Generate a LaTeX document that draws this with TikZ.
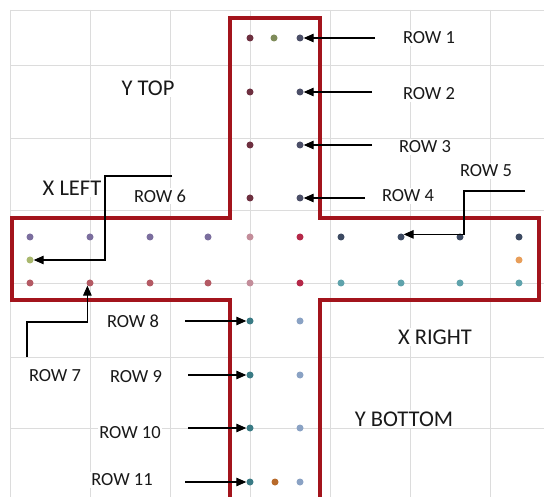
\documentclass[tikz,border=0pt]{standalone}
\usepackage{fontspec}
\setmainfont{Carlito}
\usetikzlibrary{arrows.meta}
\definecolor{gridc}{HTML}{DCDCDC}
\definecolor{redc}{HTML}{A3141C}
\definecolor{cmaroon}{HTML}{6E3040}
\definecolor{colive}{HTML}{7F8C5A}
\definecolor{cslate}{HTML}{4C4F68}
\definecolor{cpurple}{HTML}{7B6E9E}
\definecolor{cpink}{HTML}{C38D9A}
\definecolor{ccrimson}{HTML}{B52848}
\definecolor{cdslate}{HTML}{3D4A62}
\definecolor{cyg}{HTML}{A9B86E}
\definecolor{corange}{HTML}{E89E5A}
\definecolor{cmred}{HTML}{B45A64}
\definecolor{cteal}{HTML}{5FA3AC}
\definecolor{cdteal}{HTML}{3A7B85}
\definecolor{csteel}{HTML}{8AA2C4}
\definecolor{cbrown}{HTML}{B86A2A}
\tikzset{
  dot/.style={circle,inner sep=0pt,minimum size=7pt,fill=#1},
  rowlbl/.style={font=\fontsize{18.5}{21}\selectfont,text=black!90,fill=white,inner sep=1.5pt},
  biglbl/.style={font=\fontsize{22.5}{26}\selectfont,text=black!90,fill=white,inner sep=1.5pt},
  arr/.style={draw=black,line width=1.2pt,-{Triangle[length=10pt,width=8.5pt]}},
  gridline/.style={draw=gridc,line width=0.8pt},
  outline/.style={draw=redc,line width=4pt,line join=miter}
}
\begin{document}
\begin{tikzpicture}[x=1pt,y=-1pt]
\useasboundingbox (0,0) rectangle (544,497);
\fill[white] (0,0) rectangle (544,497);
% grid
\foreach \x in {10,90,170,250,330,410,490} \draw[gridline] (\x,10) -- (\x,497);
\foreach \y in {10,65,138,210,283,357,428} \draw[gridline] (10,\y) -- (544,\y);
% red cross outline
\draw[outline] (320,497) -- (320,300) -- (539,300) -- (539,218) -- (320,218) -- (320,18)
  -- (230,18) -- (230,218) -- (12,218) -- (12,300) -- (230,300) -- (230,497);
% labels
\node[biglbl] (ytop) at (148,88) {Y TOP};
\node[biglbl] (xleft) at (72,188) {X LEFT};
\node[biglbl] (xright) at (435,337) {X RIGHT};
\node[biglbl] (ybot) at (404,419) {Y BOTTOM};
\node[rowlbl] (l1) at (429,38) {ROW 1};
\node[rowlbl] (l2) at (429,94) {ROW 2};
\node[rowlbl] (l3) at (425,147) {ROW 3};
\node[rowlbl] (l4) at (408,196) {ROW 4};
\node[rowlbl] (l5) at (486,171) {ROW 5};
\node[rowlbl] (l6) at (160,196) {ROW 6};
\node[rowlbl] (l7) at (55,376) {ROW 7};
\node[rowlbl] (l8) at (133,321) {ROW 8};
\node[rowlbl] (l9) at (136,377) {ROW 9};
\node[rowlbl] (l10) at (130,433) {ROW 10};
\node[rowlbl] (l11) at (122,480) {ROW 11};
% top column dots
\node[dot=cmaroon] (t1a) at (250,38) {};
\node[dot=colive] (t1b) at (274,38) {};
\node[dot=cslate] (t1c) at (300,38) {};
\node[dot=cmaroon] (t2a) at (250,92) {};
\node[dot=cslate] (t2c) at (300,92) {};
\node[dot=cmaroon] (t3a) at (250,145) {};
\node[dot=cslate] (t3c) at (300,145) {};
\node[dot=cmaroon] (t4a) at (250,198) {};
\node[dot=cslate] (t4c) at (300,198) {};
% horizontal arm, top row
\node[dot=cpurple] (h1) at (30,237) {};
\node[dot=cpurple] (h2) at (90,237) {};
\node[dot=cpurple] (h3) at (150,237) {};
\node[dot=cpurple] (h4) at (208,237) {};
\node[dot=cpink] (h5) at (250,237) {};
\node[dot=ccrimson] (h6) at (300,237) {};
\node[dot=cdslate] (h7) at (341,237) {};
\node[dot=cdslate] (h8) at (401,237) {};
\node[dot=cdslate] (h9) at (460,237) {};
\node[dot=cdslate] (h10) at (519,237) {};
% middle row
\node[dot=cyg] (m1) at (30,260) {};
\node[dot=corange] (m10) at (519,260) {};
% bottom row
\node[dot=cmred] (b1) at (30,283) {};
\node[dot=cmred] (b2) at (90,283) {};
\node[dot=cmred] (b3) at (150,283) {};
\node[dot=cmred] (b4) at (208,283) {};
\node[dot=cpink] (b5) at (250,283) {};
\node[dot=ccrimson] (b6) at (300,283) {};
\node[dot=cteal] (b7) at (341,283) {};
\node[dot=cteal] (b8) at (401,283) {};
\node[dot=cteal] (b9) at (460,283) {};
\node[dot=cteal] (b10) at (519,283) {};
% bottom column
\node[dot=cdteal] (u8a) at (250,321) {};
\node[dot=csteel] (u8c) at (300,321) {};
\node[dot=cdteal] (u9a) at (250,375) {};
\node[dot=csteel] (u9c) at (300,375) {};
\node[dot=cdteal] (u10a) at (250,428) {};
\node[dot=csteel] (u10c) at (300,428) {};
\node[dot=cdteal] (u11a) at (250,482) {};
\node[dot=cbrown] (u11b) at (275,482) {};
\node[dot=csteel] (u11c) at (300,482) {};
% arrow start points
\coordinate (s1) at (375,38);
\coordinate (s2) at (372,92);
\coordinate (s3) at (372,145);
\coordinate (s4) at (365,198);
\coordinate (s5) at (525,191);
\coordinate (s6) at (172,176);
\coordinate (s7) at (27,357);
\coordinate (s8) at (185,321);
\coordinate (s9) at (188,375);
\coordinate (s10) at (188,428);
\coordinate (s11) at (185,482);
% arrows
\draw[arr] (s1) -- (t1c.east);
\draw[arr] (s2) -- (t2c.east);
\draw[arr] (s3) -- (t3c.east);
\draw[arr] (s4) -- (t4c.east);
\draw[arr] (s5) -- (464,191) |- (h8.north east);
\draw[arr] (s6) -- (105,176) |- (m1.east);
\draw[arr] (s7) -- (27,322) -| (b2.south west);
\draw[arr] (s8) -- (u8a.west);
\draw[arr] (s9) -- (u9a.west);
\draw[arr] (s10) -- (u10a.west);
\draw[arr] (s11) -- (u11a.west);
\end{tikzpicture}
\end{document}
